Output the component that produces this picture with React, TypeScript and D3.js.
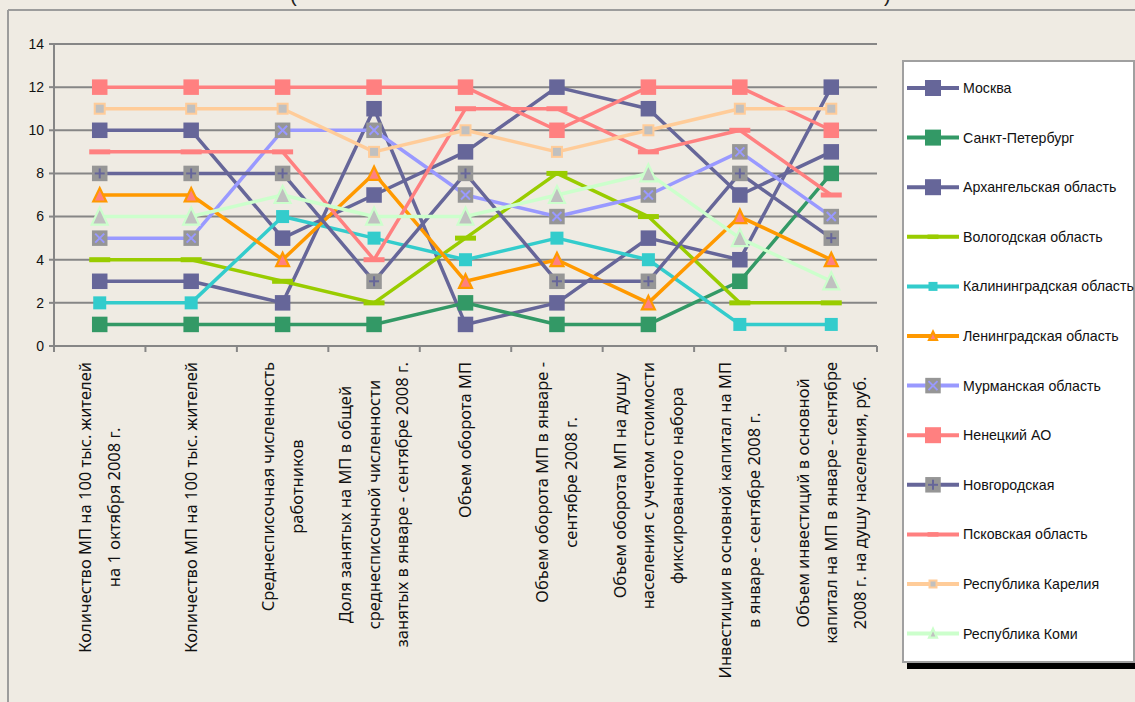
import React from "react";
import * as d3 from "d3";

const W = 1135;
const H = 702;

const categoryLabels: string[][] = [
  ["Количество МП на 100 тыс. жителей", "на 1 октября 2008 г."],
  ["Количество МП на 100 тыс. жителей"],
  ["Среднесписочная численность", "работников"],
  ["Доля занятых на МП в общей", "среднесписочной численности", "занятых в январе - сентябре 2008 г."],
  ["Объем оборота МП"],
  ["Объем оборота МП в январе -", "сентябре 2008 г."],
  ["Объем оборота МП на душу", "населения с учетом стоимости", "фиксированного набора"],
  ["Инвестиции в основной капитал на МП", "в январе - сентябре 2008 г."],
  ["Объем инвестиций в основной", "капитал на МП в январе - сентябре", "2008 г. на душу населения, руб."],
];

const yTicks = [0, 2, 4, 6, 8, 10, 12, 14];

const moscow = [3, 3, 2, 11, 1, 2, 5, 4, 12];
const spb = [1, 1, 1, 1, 2, 1, 1, 3, 8];
const arkhangelsk = [10, 10, 5, 7, 9, 12, 11, 7, 9];
const vologda = [4, 4, 3, 2, 5, 8, 6, 2, 2];
const kaliningrad = [2, 2, 6, 5, 4, 5, 4, 1, 1];
const leningrad = [7, 7, 4, 8, 3, 4, 2, 6, 4];
const murmansk = [5, 5, 10, 10, 7, 6, 7, 9, 6];
const nenets = [12, 12, 12, 12, 12, 10, 12, 12, 10];
const novgorod = [8, 8, 8, 3, 8, 3, 3, 8, 5];
const pskov = [9, 9, 9, 4, 11, 11, 9, 10, 7];
const karelia = [11, 11, 11, 9, 10, 9, 10, 11, 11];
const komi = [6, 6, 7, 6, 6, 7, 8, 5, 3];

const seriesNames = [
  "Москва",
  "Санкт-Петербург",
  "Архангельская область",
  "Вологодская область",
  "Калининградская область",
  "Ленинградская область",
  "Мурманская область",
  "Ненецкий  АО",
  "Новгородская",
  "Псковская область",
  "Республика Карелия",
  "Республика Коми",
];
const seriesValues = [
  moscow, spb, arkhangelsk, vologda, kaliningrad, leningrad,
  murmansk, nenets, novgorod, pskov, karelia, komi,
];
const seriesColors = [
  "#666699", "#339966", "#666699", "#99CC00", "#33CCCC", "#FF9900",
  "#9999FF", "#FF8080", "#666699", "#FF8080", "#FFCC99", "#CCFFCC",
];
type MK = "square" | "dash" | "smallsq" | "tri" | "xbox" | "plusbox" | "bordersq" | "tri2";
const seriesMarkers: MK[] = [
  "square", "square", "square", "dash", "smallsq", "tri",
  "xbox", "square", "plusbox", "dash", "bordersq", "tri2",
];

const FONT = "'Liberation Sans', Arial, sans-serif";
const LABEL_FONT = "'Noto Sans', 'Liberation Sans', sans-serif";

function measure(text: string, size: number, family: string): number {
  if (typeof document === "undefined") return text.length * size * 0.5;
  const c = document.createElement("canvas");
  const ctx = c.getContext("2d");
  if (!ctx) return text.length * size * 0.5;
  ctx.font = `${size}px ${family}`;
  return ctx.measureText(text).width;
}

function Marker({ kind, color, cx, cy, legend }: { kind: MK; color: string; cx: number; cy: number; legend?: boolean }) {
  const gray = "#969696";
  switch (kind) {
    case "square": {
      const s = legend ? 16 : 15.5;
      return <rect x={cx - s / 2} y={cy - s / 2} width={s} height={s} fill={color} />;
    }
    case "smallsq": {
      const s = legend ? 9 : 13;
      return <rect x={cx - s / 2} y={cy - s / 2} width={s} height={s} fill={color} />;
    }
    case "bordersq": {
      const s = legend ? 7 : 10;
      return <rect x={cx - s / 2} y={cy - s / 2} width={s} height={s} fill="#C0C0C0" stroke={color} strokeWidth={2} />;
    }
    case "dash": {
      const w = legend ? 11 : 21;
      const h = legend ? 4.5 : 5;
      return <rect x={cx - w / 2} y={cy - h / 2} width={w} height={h} fill={color} />;
    }
    case "tri": {
      const s = legend ? 8 : 13;
      const p = `${cx},${cy - s / 2 - 0.5} ${cx + s / 2},${cy + s / 2} ${cx - s / 2},${cy + s / 2}`;
      return <polygon points={p} fill="#FF8080" stroke={color} strokeWidth={2.2} strokeLinejoin="miter" />;
    }
    case "tri2": {
      const s = legend ? 8 : 16;
      const p = `${cx},${cy - s / 2 - 1} ${cx + s / 2},${cy + s / 2} ${cx - s / 2},${cy + s / 2}`;
      return <polygon points={p} fill="#C0C0C0" stroke={color} strokeWidth={2.2} strokeLinejoin="miter" />;
    }
    case "xbox": {
      const s = 15.5;
      const a = 4.5;
      return (
        <g>
          <rect x={cx - s / 2} y={cy - s / 2} width={s} height={s} fill={gray} />
          <line x1={cx - a} y1={cy - a} x2={cx + a} y2={cy + a} stroke={color} strokeWidth={2} />
          <line x1={cx - a} y1={cy + a} x2={cx + a} y2={cy - a} stroke={color} strokeWidth={2} />
        </g>
      );
    }
    case "plusbox": {
      const s = 15.5;
      const a = 5;
      return (
        <g>
          <rect x={cx - s / 2} y={cy - s / 2} width={s} height={s} fill={gray} />
          <line x1={cx - a} y1={cy} x2={cx + a} y2={cy} stroke={color} strokeWidth={2} />
          <line x1={cx} y1={cy - a} x2={cx} y2={cy + a} stroke={color} strokeWidth={2} />
        </g>
      );
    }
  }
  return null;
}

export default function App() {
  const left = 54;
  const right = 877;
  const top = 44;
  const bottom = 346;

  const idx = categoryLabels.map((_, i) => i);
  const x = d3.scaleBand<number>().domain(idx).range([left, right]).padding(0);
  const cx = (i: number) => (x(i) as number) + x.bandwidth() / 2;
  const y = d3.scaleLinear().domain([0, 14]).range([bottom, top]);

  const line = d3
    .line<number>()
    .x((_, i) => cx(i))
    .y((d) => y(d));

  const labelSize = 16.5;
  const lineGap = 28.5;
  const labelTop = 362;

  const legendX = 903;
  const legendY = 61;
  const legendW = 231;
  const legendH = 601;
  const legendStep = 49.6;
  const legendFirst = 88;

  return (
    <svg
      width={W}
      height={H}
      style={{ position: "fixed", left: 0, top: 0, fontFamily: FONT }}
    >
      <rect x={0} y={0} width={W} height={H} fill="#EFEBE3" />
      {/* title, cut off at the top edge as in the source */}
      <text x={290} y={2} fontSize={20} fill="#222">(</text>
      <text x={884} y={2} fontSize={20} fill="#222">)</text>
      {/* frame */}
      <line x1={8} y1={10} x2={W} y2={10} stroke="#9C9C9C" strokeWidth={2} />
      <line x1={8} y1={10} x2={8} y2={H} stroke="#9C9C9C" strokeWidth={2} />

      {/* gridlines */}
      {yTicks.map((t) => (
        <g key={t}>
          <line x1={left} x2={right} y1={y(t)} y2={y(t)} stroke="#868686" strokeWidth={2} />
          <line x1={left - 5} x2={left} y1={y(t)} y2={y(t)} stroke="#868686" strokeWidth={2} />
          <text x={44} y={y(t)} dy="0.35em" textAnchor="end" fontSize={14} fill="#111">
            {t}
          </text>
        </g>
      ))}
      {/* y axis */}
      <line x1={left} x2={left} y1={top} y2={bottom + 1} stroke="#868686" strokeWidth={2} />
      {/* x axis ticks */}
      {idx.concat([idx.length]).map((i) => {
        const xx = i < idx.length ? (x(i) as number) : right;
        return <line key={i} x1={xx} x2={xx} y1={bottom} y2={bottom + 6} stroke="#868686" strokeWidth={2} />;
      })}

      {/* category labels */}
      {categoryLabels.map((lines, i) => {
        const maxW = Math.max(...lines.map((l) => measure(l, labelSize, LABEL_FONT)));
        const cyy = labelTop + maxW / 2;
        const n = lines.length;
        return (
          <g key={i}>
            {lines.map((l, j) => {
              const lx = cx(i) + (j - (n - 1) / 2) * lineGap;
              return (
                <text
                  key={j}
                  transform={`translate(${lx},${cyy}) rotate(-90)`}
                  textAnchor="middle"
                  dy="0.35em"
                  fontSize={labelSize}
                  fontFamily={LABEL_FONT}
                  fill="#111"
                >
                  {l}
                </text>
              );
            })}
          </g>
        );
      })}

      {/* series */}
      {seriesValues.map((vals, si) => (
        <g key={si}>
          <path d={line(vals) || ""} fill="none" stroke={seriesColors[si]} strokeWidth={3.5} strokeLinejoin="round" />
          {vals.map((v, i) => (
            <Marker key={i} kind={seriesMarkers[si]} color={seriesColors[si]} cx={cx(i)} cy={y(v)} />
          ))}
        </g>
      ))}

      {/* legend */}
      <rect x={legendX + 4} y={legendY + legendH + 1} width={W - legendX - 4} height={6} fill="#000" />
      <rect x={legendX} y={legendY} width={legendW} height={legendH} fill="#FFFFFF" stroke="#A0A0A0" strokeWidth={2} />
      {seriesNames.map((name, si) => {
        const ly = legendFirst + si * legendStep;
        return (
          <g key={si}>
            <line x1={907} x2={959} y1={ly} y2={ly} stroke={seriesColors[si]} strokeWidth={4} />
            <Marker kind={seriesMarkers[si]} color={seriesColors[si]} cx={933} cy={ly} legend />
            <text x={963} y={ly} dy="0.35em" fontSize={14.2} fill="#111">
              {name}
            </text>
          </g>
        );
      })}
    </svg>
  );
}
